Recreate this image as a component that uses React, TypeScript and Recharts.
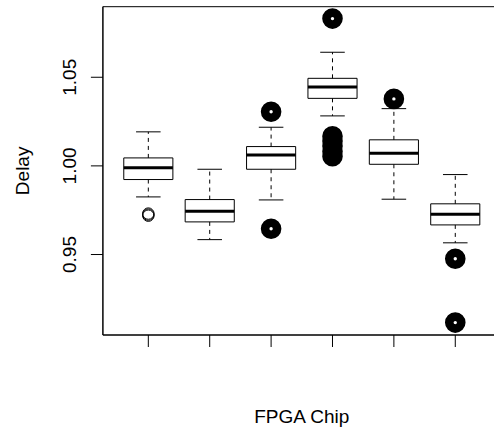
import React from 'react';
import { ScatterChart, Scatter, XAxis, YAxis, ReferenceArea, ReferenceLine } from 'recharts';

// five-number summaries per FPGA chip
const chips = [1, 2, 3, 4, 5, 6];
const lowerWhisker = [0.9825, 0.9584, 0.9808, 1.0282, 0.9812, 0.9566];
const q1 = [0.9923, 0.9684, 0.9981, 1.0381, 1.0009, 0.9667];
const median = [0.9989, 0.9744, 1.0062, 1.0445, 1.0071, 0.9727];
const q3 = [1.0045, 0.981, 1.0109, 1.0494, 1.0147, 0.9786];
const upperWhisker = [1.0192, 0.9981, 1.0218, 1.0641, 1.0323, 0.9951];

// outliers (chip 1 drawn as open rings, the rest as heavy dots)
const openOutlierChip = [1, 1, 1];
const openOutlierValue = [0.9731, 0.9725, 0.9719];
const outlierChip = [3, 3, 4, 4, 4, 4, 4, 4, 5, 6, 6];
const outlierValue = [1.0305, 0.9645, 1.0831, 1.0167, 1.014, 1.0112, 1.0083, 1.0055, 1.0378, 0.9476, 0.9116];

const yTicks = [0.95, 1.0, 1.05];
const X_MIN = 0.26;
const X_MAX = 6.74;
const Y_MIN = 0.9046;
const Y_MAX = 1.0898;

const FONT = '"Liberation Sans", Arial, sans-serif';
const FS = 19;

const openPts = openOutlierChip.map((c, i) => ({ x: c, y: openOutlierValue[i] }));
const heavyPts = outlierChip.map((c, i) => ({ x: c, y: outlierValue[i] }));

const YTick = (props: any) => {
    const { y, payload } = props;
    return (
        <text
            x={76}
            y={y}
            transform={`rotate(-90, 76, ${y})`}
            textAnchor="middle"
            fontFamily={FONT}
            fontSize={FS}
            fill="#000"
        >
            {Number(payload.value).toFixed(2)}
        </text>
    );
};

const App: React.FC = () => {
    return (
        <div style={{ position: 'absolute', left: 0, top: 0, width: 494, height: 429, overflow: 'hidden', background: '#fff' }}>
            <ScatterChart width={510} height={429} margin={{ top: 6.7, right: 9.3, bottom: 0, left: 0 }}>
                <XAxis
                    type="number"
                    dataKey="x"
                    domain={[X_MIN, X_MAX]}
                    ticks={chips}
                    allowDataOverflow
                    height={94}
                    tickSize={12}
                    tick={() => <g />}
                    stroke="#000"
                    tickLine={{ stroke: '#000' }}
                    label={{
                        content: (p: any) => {
                            const vb = p.viewBox;
                            return (
                                <text x={vb.x + vb.width / 2} y={vb.y + 88.3} textAnchor="middle" fontFamily={FONT} fontSize={FS} fill="#000">
                                    FPGA Chip
                                </text>
                            );
                        },
                    }}
                />
                <YAxis
                    type="number"
                    dataKey="y"
                    domain={[Y_MIN, Y_MAX]}
                    ticks={yTicks}
                    allowDataOverflow
                    width={102.9}
                    tickSize={12}
                    tick={YTick}
                    stroke="#000"
                    tickLine={{ stroke: '#000' }}
                    label={{
                        content: (p: any) => {
                            const vb = p.viewBox;
                            const cy = vb.y + vb.height / 2;
                            return (
                                <text x={29} y={cy} transform={`rotate(-90, 29, ${cy})`} textAnchor="middle" fontFamily={FONT} fontSize={FS} fill="#000">
                                    Delay
                                </text>
                            );
                        },
                    }}
                />
                <ReferenceArea x1={X_MIN} x2={X_MAX} y1={Y_MIN} y2={Y_MAX} fill="none" stroke="#000" strokeWidth={1} ifOverflow="visible" />
                {chips.map((c, i) => (
                    <ReferenceLine key={`uw${c}`} segment={[{ x: c, y: q3[i] }, { x: c, y: upperWhisker[i] }]} stroke="#000" strokeDasharray="4 4" />
                ))}
                {chips.map((c, i) => (
                    <ReferenceLine key={`lw${c}`} segment={[{ x: c, y: q1[i] }, { x: c, y: lowerWhisker[i] }]} stroke="#000" strokeDasharray="4 4" />
                ))}
                {chips.map((c, i) => (
                    <ReferenceLine key={`uc${c}`} segment={[{ x: c - 0.2, y: upperWhisker[i] }, { x: c + 0.2, y: upperWhisker[i] }]} stroke="#000" />
                ))}
                {chips.map((c, i) => (
                    <ReferenceLine key={`lc${c}`} segment={[{ x: c - 0.2, y: lowerWhisker[i] }, { x: c + 0.2, y: lowerWhisker[i] }]} stroke="#000" />
                ))}
                {chips.map((c, i) => (
                    <ReferenceArea key={`box${c}`} x1={c - 0.4} x2={c + 0.4} y1={q1[i]} y2={q3[i]} fill="#fff" fillOpacity={1} stroke="#000" strokeWidth={1} />
                ))}
                {chips.map((c, i) => (
                    <ReferenceLine key={`med${c}`} segment={[{ x: c - 0.4, y: median[i] }, { x: c + 0.4, y: median[i] }]} stroke="#000" strokeWidth={3} />
                ))}
                <Scatter
                    data={openPts}
                    isAnimationActive={false}
                    shape={(p: any) => <circle cx={p.cx} cy={p.cy} r={5.7} fill="none" stroke="#000" strokeWidth={1} />}
                />
                <Scatter
                    data={heavyPts}
                    isAnimationActive={false}
                    shape={(p: any) => <circle cx={p.cx} cy={p.cy} r={6} fill="none" stroke="#000" strokeWidth={8.6} />}
                />
            </ScatterChart>
        </div>
    );
};

export default App;
